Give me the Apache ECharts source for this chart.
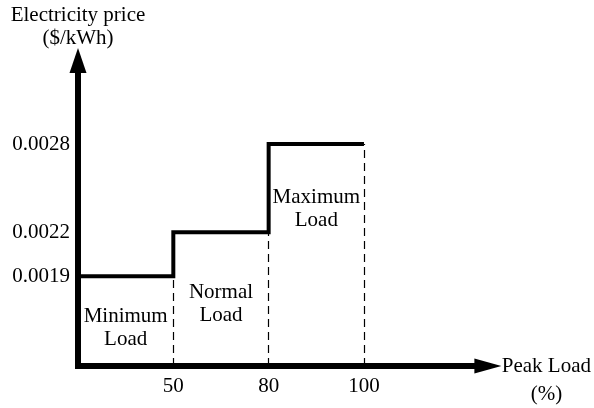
<!DOCTYPE html>
<html>
<head>
<meta charset="utf-8">
<style>html,body{margin:0;padding:0;background:#fff;}#chart{width:594px;height:408px;}</style>
<script src="https://cdn.jsdelivr.net/npm/echarts@6/dist/echarts.min.js"></script>
</head>
<body>
<div id="chart"></div>
<script>
// Load boundaries (% of peak load); the chart is schematic, so boundaries are placed ordinally
var loadBounds = [0, 50, 80, 100];
var loadTickLabels = ['50', '80', '100'];
// Electricity price of each load band ($/kWh)
var bandPrices = [0.0019, 0.0022, 0.0028];
var bandNames = ['Minimum\nLoad', 'Normal\nLoad', 'Maximum\nLoad'];
var priceTicks = [0.0019, 0.0022, 0.0028];

// style / layout settings
var FONT = 'Liberation Serif, Times New Roman, serif';
var FS = 21;
var Y_MIN = 0.00129, Y_MAX = 0.003368;
var X_MAX = 4.3;
var bandLabelDy = [52, 72, 65];

// build step points from arrays: band i spans boundary i..i+1
var stepData = [];
for (var i = 0; i < loadBounds.length; i++) {
  var p = bandPrices[Math.min(i, bandPrices.length - 1)];
  stepData.push([i, p]);
}
var dashLines = [];
for (var k = 1; k < loadBounds.length; k++) {
  dashLines.push([{coord: [k, Y_MIN]}, {coord: [k, bandPrices[k - 1]]}]);
}
var bandLabelData = bandPrices.map(function (p, i) { return [i + 0.5, p]; });

var chart = echarts.init(document.getElementById('chart'), null, {renderer: 'canvas'});
chart.setOption({
  animation: false,
  backgroundColor: '#fff',
  grid: {left: 78, right: 105.5, top: 60.5, bottom: 38},
  xAxis: {
    type: 'value', min: 0, max: X_MAX,
    splitLine: {show: false},
    axisTick: {show: false},
    axisLine: {show: true, onZero: false, symbol: ['none', 'triangle'], symbolSize: [15, 27],
      lineStyle: {color: '#000', width: 6, cap: 'square'}},
    axisLabel: {
      customValues: [1, 2, 3],
      formatter: function (v) { return loadTickLabels[Math.round(v) - 1]; },
      color: '#000', fontFamily: FONT, fontSize: FS, margin: 10
    },
    name: '\nPeak Load\n(%)', nameLocation: 'end', nameGap: 58.5,
    nameTextStyle: {color: '#000', fontFamily: FONT, fontSize: FS, align: 'center', verticalAlign: 'middle', lineHeight: 28}
  },
  yAxis: {
    type: 'value', min: Y_MIN, max: Y_MAX,
    splitLine: {show: false},
    axisTick: {show: false},
    axisLine: {show: true, onZero: false, symbol: ['none', 'triangle'], symbolSize: [17, 25],
      lineStyle: {color: '#000', width: 6, cap: 'square'}},
    axisLabel: {
      customValues: priceTicks,
      formatter: function (v) { return Number(v).toFixed(4); },
      color: '#000', fontFamily: FONT, fontSize: FS, margin: 8
    },
    name: 'Electricity price\n($/kWh)', nameLocation: 'end', nameGap: 11,
    nameTextStyle: {color: '#000', fontFamily: FONT, fontSize: FS, align: 'center', lineHeight: 23}
  },
  series: [
    {
      type: 'line', step: 'end', data: stepData, showSymbol: false, symbol: 'none',
      lineStyle: {color: '#000', width: 4, join: 'miter', cap: 'butt'},
      silent: true, z: 3,
      markLine: {
        silent: true, symbol: 'none', label: {show: false},
        lineStyle: {color: '#000', width: 1.2, type: [8, 5]},
        data: dashLines
      }
    },
    {
      type: 'custom', data: bandLabelData, silent: true, z: 4,
      renderItem: function (params, api) {
        var pt = api.coord([api.value(0), api.value(1)]);
        return {
          type: 'text', x: pt[0], y: pt[1] + bandLabelDy[params.dataIndex],
          style: {text: bandNames[params.dataIndex], align: 'center', verticalAlign: 'middle',
            font: FS + 'px ' + FONT, lineHeight: 23, fill: '#000'}
        };
      }
    }
  ]
});
</script>
</body>
</html>
